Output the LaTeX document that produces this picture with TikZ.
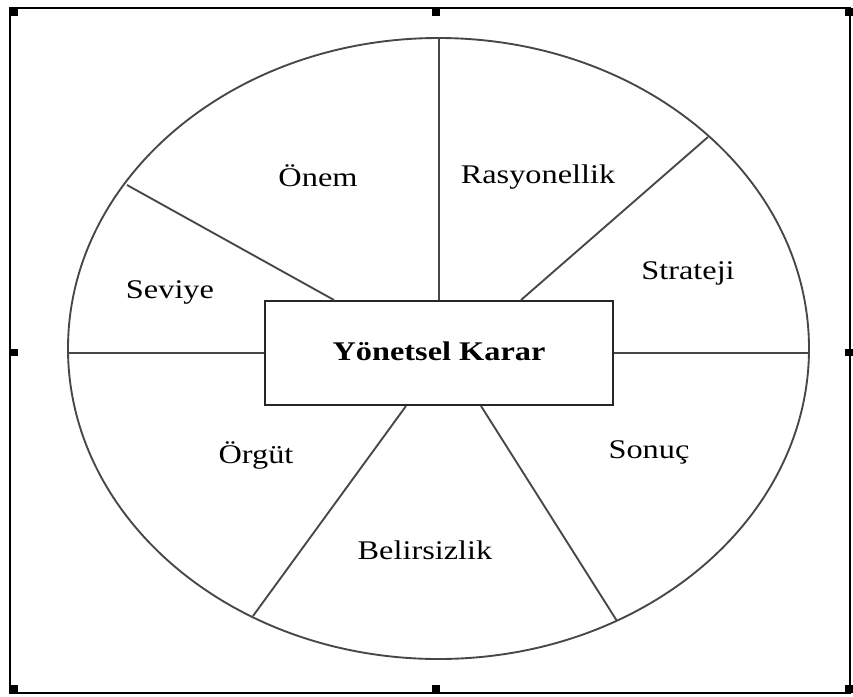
\documentclass[tikz,border=0pt]{standalone}
\usepackage{fontspec}
\setmainfont[FakeStretch=1.2]{Liberation Serif}
\usetikzlibrary{positioning}

\begin{document}
\begin{tikzpicture}[x=0.03cm, y=-0.03cm,
    spoke/.style={draw=black!72, line width=1.6pt},
    lbl/.style={anchor=base, font=\fontsize{23}{26}\selectfont},
    handle/.style={fill=black}]
    \useasboundingbox (0,0) rectangle (853,696);

    % Frame with selection handles
    \draw[line width=1.6pt] (10,8) rectangle (850,693);
    \foreach \x in {10, 432, 845} {
        \foreach \y in {8, 685} {
            \fill[handle] (\x,\y) rectangle ++(8,8);
        }
    }
    \fill[handle] (10,349) rectangle ++(8,7);
    \fill[handle] (845,349) rectangle ++(8,7);

    % Outer ellipse
    \coordinate (mid) at (438.5,348.5);
    \draw[spoke] (mid) ellipse (370.5 and 310.5);

    % Points on the ellipse
    \coordinate (eTop) at (439,38);
    \coordinate (eUL) at (127,185);
    \coordinate (eUR) at (708,137);
    \coordinate (eL) at (68,353);
    \coordinate (eR) at (809,353);
    \coordinate (eLL) at (253,616);
    \coordinate (eLR) at (617,621);

    % Centre box
    \node[draw=black!85, line width=1.7pt, minimum width=10.44cm, minimum height=3.12cm,
        text depth=0.3em, font=\fontsize{23}{26}\selectfont\bfseries] (karar) at (439,353)
        {Yönetsel Karar};

    % Spokes
    \draw[spoke] (karar.north) -- (eTop);
    \draw[spoke] ([xshift=2.1cm]karar.north west) -- (eUL);
    \draw[spoke] ([xshift=-2.79cm]karar.north east) -- (eUR);
    \draw[spoke] (karar.west) -- (eL);
    \draw[spoke] (karar.east) -- (eR);
    \draw[spoke] ([xshift=4.26cm]karar.south west) -- (eLL);
    \draw[spoke] ([xshift=-3.99cm]karar.south east) -- (eLR);

    % Sector labels
    \node[lbl] (onem) at (318,186) {Önem};
    \node[lbl] (rasyon) at (538,183) {Rasyonellik};
    \node[lbl] (strateji) at (688,279) {Strateji};
    \node[lbl] (seviye) at (170,298) {Seviye};
    \node[lbl] (orgut) at (256,463) {Örgüt};
    \node[lbl] (sonuc) at (649,458) {Sonuç};
    \node[lbl] (belirsiz) at (425,559) {Belirsizlik};
\end{tikzpicture}
\end{document}
